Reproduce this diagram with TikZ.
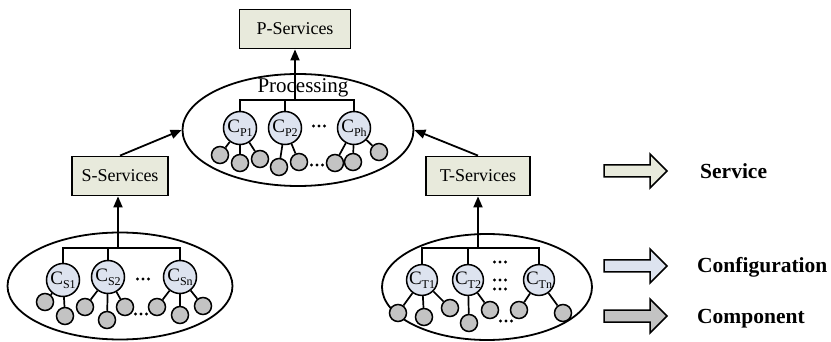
\documentclass[tikz,border=0pt]{standalone}
\usepackage{fontspec}
\setmainfont{Liberation Serif}
\usetikzlibrary{shapes.geometric,arrows.meta}

\definecolor{srvfill}{HTML}{E8EADC}
\definecolor{cfgfill}{HTML}{DDE3EF}
\definecolor{cmpfill}{HTML}{C3C3C3}

% label inside a configuration circle
\newcommand{\cfglabel}[1]{{\fontsize{19}{19}\selectfont C}\raisebox{-4pt}{\fontsize{12}{12}\selectfont #1}}

\tikzset{
  srvbox/.style={draw, line width=1.8pt, fill=srvfill, minimum width=104pt,
    minimum height=39pt, inner sep=0pt, font=\fontsize{18}{18}\selectfont},
  group/.style={draw, line width=1.8pt, ellipse, inner sep=0pt},
  cfg/.style={draw, line width=1.5pt, circle, fill=cfgfill, minimum size=33pt, inner sep=0pt},
  cmp/.style={draw, line width=1.5pt, circle, fill=cmpfill, minimum size=17pt, inner sep=0pt},
  link/.style={line width=1.7pt},
  up/.style={line width=1.8pt, -{Triangle[length=11pt,width=9pt]}},
  ellip/.pic={\foreach \d in {-5.5,0,5.5} \fill (\d,0) circle (1.7);},
  legend/.style={font=\fontsize{21.5}{21.5}\selectfont\bfseries, anchor=west, inner sep=0pt}
}

\begin{document}
\begin{tikzpicture}[x=1pt, y=-1pt]
  \useasboundingbox (0,0) rectangle (831,342);

  % Groups
  \node[group, minimum width=231pt, minimum height=112pt] (proc) at (298,130) {};
  \node[group, minimum width=225pt, minimum height=107pt] (sgrp) at (120,286) {};
  \node[group, minimum width=210pt, minimum height=106pt] (tgrp) at (487,287) {};
  \node[font=\fontsize{21}{21}\selectfont, inner sep=0pt] (proctxt) at (303,88) {Processing};

  % Services
  \node[srvbox, minimum width=111pt] (psrv) at (295,29) {P-Services};
  \node[srvbox, minimum width=96pt] (ssrv) at (120,176) {S-Services};
  \node[srvbox] (tsrv) at (478,176) {T-Services};

  % Processing configurations
  \node[cfg] (p1) at (240,128) {\cfglabel{P1}};
  \node[cfg] (p2) at (285,128) {\cfglabel{P2}};
  \node[cfg] (ph) at (354,128) {\cfglabel{Ph}};
  \foreach \n/\x/\y in {a/220/155, b/240/163, c/260/159, d/279/167, e/299/162,
                        f/335/163, g/353/162, h/379/152}
    \node[cmp] (pc\n) at (\x,\y) {};
  \pic at (319,126) {ellip};
  \pic at (317,165) {ellip};

  % S configurations
  \node[cfg] (s1) at (63,280) {\cfglabel{S1}};
  \node[cfg] (s2) at (108,277) {\cfglabel{S2}};
  \node[cfg] (sn) at (180,277) {\cfglabel{Sn}};
  \foreach \n/\x/\y in {a/45/302, b/65/316, c/85/307, d/107/320, e/125/307,
                        f/157/307, g/180/315, h/203/306}
    \node[cmp] (sc\n) at (\x,\y) {};
  \pic at (143,279) {ellip};
  \pic at (141,314) {ellip};

  % T configurations
  \node[cfg, minimum size=30pt] (t1) at (422,280) {\cfglabel{T1}};
  \node[cfg, minimum size=30pt] (t2) at (468,280) {\cfglabel{T2}};
  \node[cfg, minimum size=30pt] (tn) at (539,280) {\cfglabel{Tn}};
  \foreach \y in {262,280,289}
    \pic at (500,\y) {ellip};
  \foreach \n/\x/\y in {a/398/313, b/424/317, c/450/308, d/469/323, e/490/310,
                        f/519/310, g/563/313}
    \node[cmp] (tc\n) at (\x,\y) {};
  \pic at (506,321) {ellip};

  % Bus lines
  \coordinate (pbus) at (295,100);
  \coordinate (sbus) at (118,248);
  \coordinate (tbus) at (478,248);
  \draw[link] (p1) |- (pbus) -| (ph);
  \draw[link] (p2) -- (p2 |- pbus);
  \draw[link] (s1) |- (sbus) -| (sn);
  \draw[link] (s2) -- (s2 |- sbus);
  \draw[link] (t1) |- (tbus) -| (tn);
  \draw[link] (t2) -- (t2 |- tbus);

  % Components
  \foreach \c/\k in {p1/a, p1/b, p1/c, p2/d, p2/e, ph/f, ph/g, ph/h}
    \draw[link] (\c) -- (pc\k);
  \foreach \c/\k in {s1/a, s1/b, s2/c, s2/d, s2/e, sn/f, sn/g, sn/h}
    \draw[link] (\c) -- (sc\k);
  \foreach \c/\k in {t1/a, t1/b, t1/c, t2/d, t2/e, tn/f, tn/g}
    \draw[link] (\c) -- (tc\k);

  % Arrows
  \draw[up] (pbus) -- (psrv.south);
  \draw[up] (sbus) -- (sbus |- ssrv.south);
  \draw[up] (tbus) -- (tsrv.south);
  \draw[up] (ssrv.north) -- (proc.west);
  \draw[up] (tsrv.north) -- (proc.east);

  % Legend
  \foreach \c/\y in {srvfill/171, cfgfill/266, cmpfill/316}
    \draw[line width=1.5pt, fill=\c] (604,\y-6) -- (650,\y-6) -- (650,\y-17) -- (667,\y)
      -- (650,\y+17) -- (650,\y+6) -- (604,\y+6) -- cycle;
  \node[legend] (lsrv) at (700,171) {Service};
  \node[legend] (lcfg) at (697,267) {Configuration};
  \node[legend] (lcmp) at (697,319) {Component};
\end{tikzpicture}
\end{document}
